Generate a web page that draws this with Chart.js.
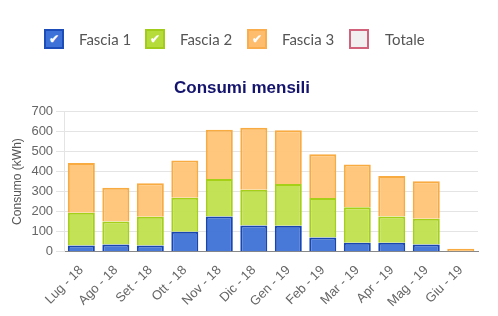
<!DOCTYPE html>
<html lang="it">
<head>
  <meta charset="UTF-8">
  <title>Consumi mensili</title>
  <script src="https://cdn.jsdelivr.net/npm/chart.js"></script>
  <style>
    body {
      margin: 0;
      background: #fff;
    }
    .wrap {
      position: relative;
      width: 498px;
      height: 316px;
    }
    .legend-item {
      position: absolute;
      top: 29px;
      height: 20px;
      font-family: Lato, "Open Sans", sans-serif;
      font-size: 15px;
      color: #555;
    }
    .legend-item .box {
      position: absolute;
      left: 0;
      top: 0;
      width: 16px;
      height: 16px;
      border: 2px solid;
      color: #fff;
      font-size: 12px;
      line-height: 16px;
      text-align: center;
      font-weight: bold;
    }
    .legend-item .lbl {
      position: absolute;
      top: 0;
      white-space: nowrap;
      line-height: 20px;
    }
  </style>
</head>
<body>
  <div class="wrap">
    <canvas id="chart" width="498" height="316"></canvas>
    <div id="legend"></div>
  </div>

  <script>
    // data
    const months = ["Lug - 18", "Ago - 18", "Set - 18", "Ott - 18", "Nov - 18", "Dic - 18",
                    "Gen - 19", "Feb - 19", "Mar - 19", "Apr - 19", "Mag - 19", "Giu - 19"];
    const fascia1 = [31, 36, 31, 99, 176, 131, 130, 71, 44, 44, 36, 0];
    const fascia2 = [163, 115, 143, 170, 187, 178, 208, 197, 178, 132, 128, 0];
    const fascia3 = [249, 168, 167, 186, 246, 310, 268, 218, 213, 202, 187, 15];
    const totale = [443, 319, 341, 455, 609, 619, 606, 486, 435, 378, 351, 15];

    // legend (html, drawn over the canvas top)
    const legendItems = [
      { label: "Fascia 1", fill: "#3f72d8", border: "#1d4db8", check: true, x: 44, tx: 79 },
      { label: "Fascia 2", fill: "#b5dc3a", border: "#a2cc1c", check: true, x: 145, tx: 180 },
      { label: "Fascia 3", fill: "#fdbd6c", border: "#f9ad4c", check: true, x: 247, tx: 282 },
      { label: "Totale", fill: "#f1efef", border: "#d2627c", check: false, x: 349, tx: 385 }
    ];
    const legendEl = document.getElementById("legend");
    legendItems.forEach(it => {
      const d = document.createElement("div");
      d.className = "legend-item";
      d.style.left = it.x + "px";
      d.innerHTML = '<div class="box" style="background:' + it.fill + ';border-color:' + it.border + '">' +
        (it.check ? "&#10004;" : "") + '</div>' +
        '<span class="lbl" style="left:' + (it.tx - it.x) + 'px">' + it.label + '</span>';
      legendEl.appendChild(d);
    });

    const chart = new Chart(document.getElementById("chart"), {
      type: "bar",
      data: {
        labels: months,
        datasets: [
          {
            label: "Fascia 1",
            data: fascia1,
            backgroundColor: "rgba(62, 113, 214, 0.95)",
            borderColor: "#1746b3",
            borderWidth: 2,
            stack: "s"
          },
          {
            label: "Fascia 2",
            data: fascia2,
            backgroundColor: "rgba(192, 224, 76, 0.95)",
            borderColor: "#a6d018",
            borderWidth: 2,
            stack: "s"
          },
          {
            label: "Fascia 3",
            data: fascia3,
            backgroundColor: "rgba(255, 196, 118, 0.95)",
            borderColor: "#f8ab40",
            borderWidth: 2,
            stack: "s"
          },
          {
            label: "Totale",
            type: "line",
            data: totale,
            borderColor: "#d2627c",
            backgroundColor: "#f1efef",
            hidden: true,
            stack: "t"
          }
        ]
      },
      options: {
        responsive: false,
        animation: false,
        layout: {
          padding: { top: 62, right: 20, bottom: 3, left: 6 }
        },
        datasets: {
          bar: {
            categoryPercentage: 0.9,
            barPercentage: 0.87
          }
        },
        plugins: {
          legend: { display: false },
          tooltip: { enabled: false },
          title: {
            display: true,
            text: "Consumi mensili",
            color: "#14146e",
            font: { family: "Liberation Sans, Arial, sans-serif", size: 17, weight: "bold" },
            padding: { top: 16, bottom: 13 }
          }
        },
        scales: {
          x: {
            stacked: true,
            grid: { display: false },
            border: { color: "#888" },
            ticks: {
              color: "#666",
              font: { family: "Liberation Sans, Arial, sans-serif", size: 13 },
              minRotation: 45,
              maxRotation: 45
            }
          },
          y: {
            stacked: true,
            min: 0,
            max: 700,
            grid: { color: "#e4e4e4" },
            border: { color: "#e4e4e4" },
            ticks: {
              stepSize: 100,
              color: "#666",
              font: { family: "Liberation Sans, Arial, sans-serif", size: 13 }
            },
            title: {
              display: true,
              text: "Consumo (kWh)",
              color: "#555",
              font: { family: "Liberation Sans, Arial, sans-serif", size: 12 }
            }
          }
        }
      }
    });
  </script>
</body>
</html>
